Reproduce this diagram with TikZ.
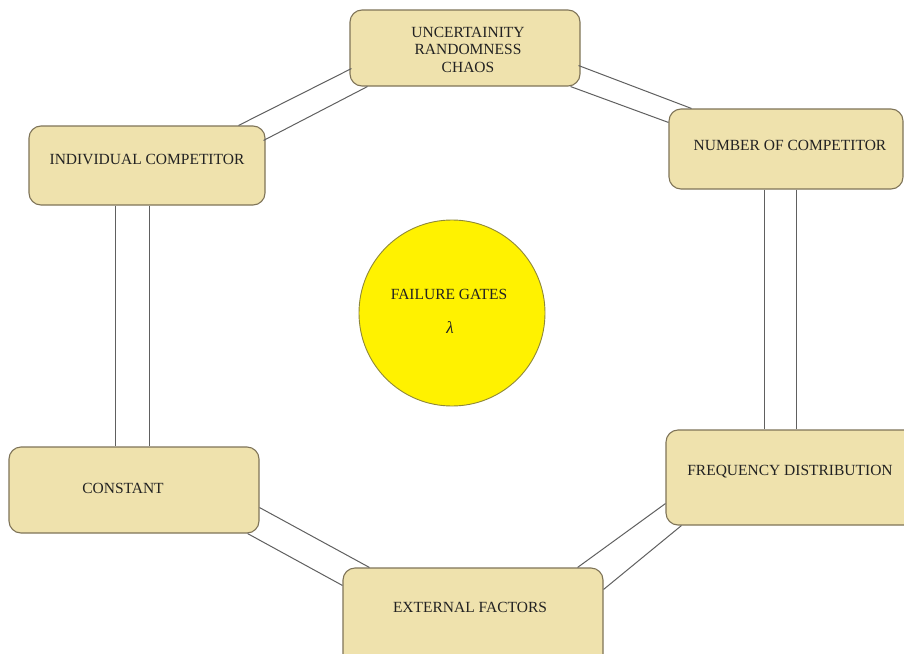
\documentclass[tikz,border=0pt]{standalone}
\usepackage{fontspec}
\setmainfont{Liberation Serif}
\usetikzlibrary{calc}
\definecolor{boxfill}{HTML}{EFE2AD}
\definecolor{boxline}{HTML}{7F7458}
\definecolor{txt}{HTML}{222222}
\definecolor{linkc}{HTML}{606060}
\definecolor{gatefill}{HTML}{FFF200}
\definecolor{gateline}{HTML}{8F8838}
\tikzset{
  boxshape/.style={draw=boxline, fill=boxfill, rounded corners=12pt, line width=1.1pt, inner sep=0pt},
  lbl/.style={font=\fontsize{15.5}{17.5}\selectfont, text=txt, align=center, inner sep=0pt},
  link/.style={draw=linkc, line width=1pt},
  gate/.style={circle, draw=gateline, fill=gatefill, line width=0.9pt, minimum size=186pt, inner sep=0pt}
}
\begin{document}
\begin{tikzpicture}[x=1pt,y=-1pt]
\useasboundingbox (0,0) rectangle (904,653);
\fill[white] (0,0) rectangle (904,653);
\clip (0,0) rectangle (904,653);

% boxes
\node[boxshape, minimum width=230pt, minimum height=76pt] (top) at (465,48) {};
\node[boxshape, minimum width=234pt, minimum height=80pt] (num) at (786,149) {};
\node[boxshape, minimum width=236pt, minimum height=79pt] (ind) at (147,165.5) {};
\node[boxshape, minimum width=250pt, minimum height=86pt] (const) at (134,490) {};
\node[boxshape, minimum width=260pt, minimum height=100pt] (ext) at (473,618) {};
\node[boxshape, minimum width=250pt, minimum height=95pt] (freq) at (791,477.5) {};

% central circle
\node[gate] (gate) at (452,313) {};

% labels
\node[lbl] (topT) at (468,49.5) {UNCERTAINITY\\RANDOMNESS\\CHAOS};
\node[lbl] (numT) at (790,145) {NUMBER OF COMPETITOR};
\node[lbl] (indT) at (147,159) {INDIVIDUAL COMPETITOR};
\node[lbl] (constT) at (123,488) {CONSTANT};
\node[lbl] (extT) at (470,607) {EXTERNAL FACTORS};
\node[lbl] (freqT) at (790,472) {FREQUENCY DISTRIBUTION};
\node[lbl] (gateT) at (449,294) {FAILURE GATES};
\node[lbl, font=\fontsize{17}{19}\selectfont\itshape] (lam) at (450,328) {λ};

% connectors: individual -- top
\draw[link] ($(ind.north east)+(-27,0)$) -- ($(top.south west)+(2,-18)$);
\draw[link] ($(ind.north east)+(-2,15)$) -- ($(top.south west)+(18,0)$);
% top -- number
\draw[link] ($(top.south east)+(-2,-21)$) -- ($(num.north west)+(23,0)$);
\draw[link] ($(top.south east)+(-10,0)$) -- ($(num.north west)+(0,14)$);
% number -- frequency
\coordinate (r1) at ($(num.south)+(-22,0)$);
\coordinate (r2) at ($(num.south)+(10,0)$);
\draw[link] (r1) -- (r1 |- freq.north);
\draw[link] (r2) -- (r2 |- freq.north);
% individual -- constant
\coordinate (l1) at ($(ind.south)+(-32,0)$);
\coordinate (l2) at ($(ind.south)+(2,0)$);
\draw[link] (l1) -- (l1 |- const.north);
\draw[link] (l2) -- (l2 |- const.north);
% constant -- external
\draw[link] ($(const.south east)+(0,-26)$) -- ($(ext.north west)+(27,0)$);
\draw[link] ($(const.south east)+(-12,0)$) -- ($(ext.north west)+(0,18)$);
% external -- frequency
\draw[link] ($(ext.north east)+(-26,0)$) -- ($(freq.south west)+(0,-22)$);
\draw[link] ($(ext.north east)+(0,22)$) -- ($(freq.south west)+(16,0)$);
\end{tikzpicture}
\end{document}
